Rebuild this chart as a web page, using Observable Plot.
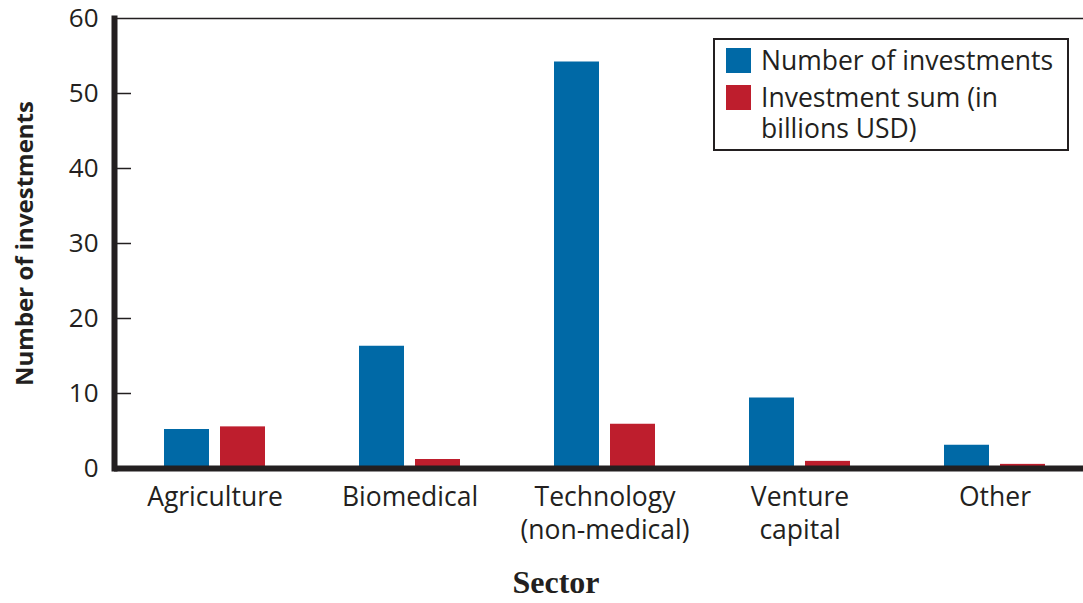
<!DOCTYPE html>
<html>
<head>
<meta charset="utf-8">
<script src="https://cdn.jsdelivr.net/npm/d3@7"></script>
<script src="https://cdn.jsdelivr.net/npm/@observablehq/plot@0.6"></script>
<style>
  html, body { margin: 0; padding: 0; background: #fff; }
  #wrap { position: relative; width: 1083px; height: 603px; overflow: hidden; font-family: "Open Sans", sans-serif; color: #231f20; }
  #legend { position: absolute; left: 713px; top: 38px; width: 356px; height: 113px; border: 2px solid #231f20; box-sizing: border-box; font-size: 26.5px; }
  #legend .sw { position: absolute; left: 11px; width: 25px; height: 25px; }
  #legend .lab { position: absolute; left: 46px; line-height: 31px; white-space: nowrap; }
  #xtitle { position: absolute; left: 406px; width: 300px; top: 565px; text-align: center; font-family: "Liberation Serif", serif; font-weight: bold; font-size: 32px; line-height: 34px; }
</style>
</head>
<body>
<div id="wrap"></div>
<script>
const sectors = ["Agriculture", "Biomedical", "Technology (non-medical)", "Venture capital", "Other"];
const sectorLabels = ["Agriculture", "Biomedical", "Technology\n(non-medical)", "Venture\ncapital", "Other"];
const numberOfInvestments = [5.2, 16.3, 54.2, 9.4, 3.1];
const investmentSum = [5.55, 1.2, 5.9, 0.95, 0.55];
const seriesNames = ["Number of investments", "Investment sum (in billions USD)"];
const seriesColors = ["#0069a6", "#be1e2d"];
const yTicks = [0, 10, 20, 30, 40, 50, 60];

const rows = [];
sectors.forEach((s, i) => {
  rows.push({sector: s, series: seriesNames[0], value: numberOfInvestments[i]});
  rows.push({sector: s, series: seriesNames[1], value: investmentSum[i]});
});
const labelOf = new Map(sectors.map((s, i) => [s, sectorLabels[i]]));
const ink = "#231f20";

const chart = Plot.plot({
  width: 1083,
  height: 603,
  marginLeft: 114,
  marginRight: 0,
  marginTop: 18,
  marginBottom: 135,
  style: {fontFamily: "'Open Sans', sans-serif", color: ink, background: "#fff"},
  x: {domain: sectors, range: [115.5, 1094], padding: 0},
  y: {domain: [0, 60]},
  color: {domain: seriesNames, range: seriesColors},
  marks: [
    Plot.barY(rows.filter(d => d.series === seriesNames[0]), {x: "sector", y: "value", fill: "series", insetLeft: 47, insetRight: 103}),
    Plot.barY(rows.filter(d => d.series === seriesNames[1]), {x: "sector", y: "value", fill: "series", insetLeft: 103, insetRight: 47}),
    Plot.ruleY([60], {stroke: ink, strokeWidth: 1.5}),
    Plot.ruleY([0], {stroke: ink, strokeWidth: 6}),
    Plot.frame({anchor: "left", stroke: ink, strokeWidth: 6}),
    Plot.axisY({ticks: [10, 20, 30, 40, 50], tickSize: 15, dx: 17, tickFormat: () => "", label: null, stroke: ink, strokeWidth: 1.5}),
    Plot.axisY({ticks: yTicks, tickSize: 0, tickPadding: 16, fontSize: 26, fill: ink, label: null}),
    Plot.axisX({tickSize: 0, tickPadding: 14, fontSize: 26.5, fill: ink, lineHeight: 1.25, tickFormat: d => labelOf.get(d), label: null}),
    Plot.text(["Number of investments"], {frameAnchor: "left", dx: -89, rotate: -90, textAnchor: "middle", fontWeight: "bold", fontSize: 24, fill: ink})
  ]
});

const wrap = document.getElementById("wrap");
wrap.appendChild(chart);

const legend = document.createElement("div");
legend.id = "legend";
legend.innerHTML = `
  <div class="sw" style="top:8px;background:${seriesColors[0]}"></div>
  <div class="lab" style="top:5px">${seriesNames[0]}</div>
  <div class="sw" style="top:45px;background:${seriesColors[1]}"></div>
  <div class="lab" style="top:42px">Investment sum (in<br>billions USD)</div>`;
wrap.appendChild(legend);

const xt = document.createElement("div");
xt.id = "xtitle";
xt.textContent = "Sector";
wrap.appendChild(xt);
</script>
</body>
</html>
